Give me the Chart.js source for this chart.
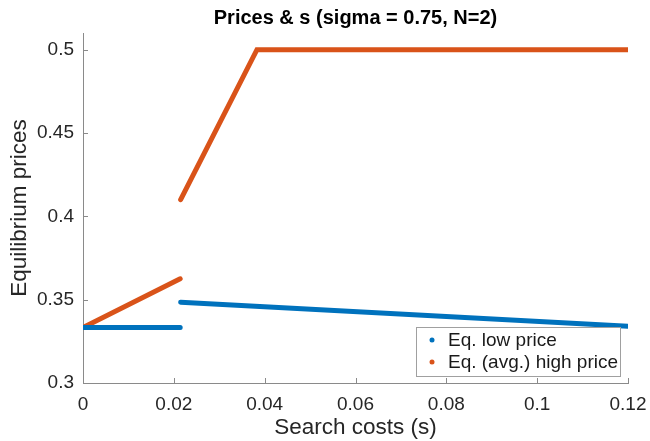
<!DOCTYPE html>
<html>
<head>
<meta charset="utf-8">
<script src="https://cdn.jsdelivr.net/npm/chart.js"></script>
<style>
  html, body { margin: 0; padding: 0; background: #fff; }
  #wrap { width: 650px; height: 441px; }
</style>
</head>
<body>
<div id="wrap"><canvas id="chart" width="650" height="441"></canvas></div>
<script>
// valores (null = salto en la curva)
const searchCostsLow = [0, 0.0214, null, 0.0215, 0.12];
const lowPrice = [0.3333, 0.3333, null, 0.3485, 0.3340];
const searchCostsHigh = [0, 0.0214, null, 0.0215, 0.0383, 0.12];
const highPrice = [0.3333, 0.3625, null, 0.4100, 0.5, 0.5];
const xTicks = [0, 0.02, 0.04, 0.06, 0.08, 0.1, 0.12];
const yTicks = [0.3, 0.35, 0.4, 0.45, 0.5];
const seriesNames = ['Eq. low price', 'Eq. (avg.) high price'];

const FONT = "'Liberation Sans', Arial, Helvetica, sans-serif";
const BLUE = '#0072BD';
const ORANGE = '#D95319';
const AXIS = '#8a8a8a';

function toPoints(xs, ys) {
    return xs.map((x, i) => x === null ? { x: null, y: null } : { x: x, y: ys[i] });
}

// titulo, ticks hacia dentro y leyenda dentro del area
const decorations = {
    id: 'decorations',
    afterDraw(chart) {
        const ctx = chart.ctx;
        const area = chart.chartArea;
        const xs = chart.scales.x;
        const ys = chart.scales.y;
        ctx.save();

        // ticks
        ctx.strokeStyle = AXIS;
        ctx.lineWidth = 1;
        ctx.beginPath();
        xTicks.forEach(v => {
            const px = Math.round(xs.getPixelForValue(v)) + 0.5;
            ctx.moveTo(px, area.bottom);
            ctx.lineTo(px, area.bottom - 5);
        });
        yTicks.forEach(v => {
            const py = Math.round(ys.getPixelForValue(v)) + 0.5;
            ctx.moveTo(area.left, py);
            ctx.lineTo(area.left + 5, py);
        });
        ctx.stroke();

        // titulo
        ctx.fillStyle = '#000';
        ctx.font = 'bold 20px ' + FONT;
        ctx.textAlign = 'center';
        ctx.textBaseline = 'middle';
        ctx.fillText('Prices & s (sigma = 0.75, N=2)', (area.left + area.right) / 2, 18);

        // leyenda
        const box = { x: 416, y: 327, w: 204, h: 49 };
        ctx.fillStyle = '#fff';
        ctx.fillRect(box.x, box.y, box.w, box.h);
        ctx.strokeStyle = '#a0a0a0';
        ctx.strokeRect(box.x + 0.5, box.y + 0.5, box.w, box.h);
        ctx.font = '19px ' + FONT;
        ctx.textAlign = 'left';
        chart.data.datasets.forEach((ds, i) => {
            const cy = box.y + 13 + i * 22;
            ctx.fillStyle = ds.borderColor;
            ctx.beginPath();
            ctx.arc(box.x + 16, cy, 2.5, 0, Math.PI * 2);
            ctx.fill();
            ctx.fillStyle = '#1a1a1a';
            ctx.fillText(ds.label, box.x + 32, cy + 1);
        });
        ctx.restore();
    }
};

new Chart(document.getElementById('chart'), {
    type: 'scatter',
    data: {
        datasets: [{
            label: seriesNames[0],
            data: toPoints(searchCostsLow, lowPrice),
            borderColor: BLUE,
            backgroundColor: BLUE,
            borderWidth: 5,
            borderCapStyle: 'round',
            showLine: true,
            spanGaps: false,
            pointRadius: 0
        }, {
            label: seriesNames[1],
            data: toPoints(searchCostsHigh, highPrice),
            borderColor: ORANGE,
            backgroundColor: ORANGE,
            borderWidth: 5,
            borderCapStyle: 'round',
            showLine: true,
            spanGaps: false,
            pointRadius: 0
        }]
    },
    options: {
        responsive: false,
        animation: false,
        devicePixelRatio: 1,
        layout: { padding: { top: 33, right: 22, left: 0, bottom: 0 } },
        plugins: {
            legend: { display: false },
            title: { display: false },
            tooltip: { enabled: false }
        },
        scales: {
            x: {
                type: 'linear',
                min: 0,
                max: 0.12,
                afterBuildTicks: s => { s.ticks = xTicks.map(v => ({ value: v })); },
                afterFit: s => { s.height = 58; s.paddingLeft = 0; s.paddingRight = 0; },
                grid: { drawOnChartArea: false, drawTicks: false },
                border: { display: true, color: AXIS, width: 1 },
                ticks: {
                    padding: 10,
                    color: '#262626',
                    font: { family: FONT, size: 19 },
                    maxRotation: 0,
                    callback: v => String(v)
                },
                title: {
                    display: true,
                    text: 'Search costs (s)',
                    color: '#262626',
                    font: { family: FONT, size: 22.5 },
                    padding: { top: 0, bottom: 0 }
                }
            },
            y: {
                type: 'linear',
                min: 0.3,
                max: 0.51,
                afterBuildTicks: s => { s.ticks = yTicks.map(v => ({ value: v })); },
                afterFit: s => { s.width = 83; s.paddingTop = 0; s.paddingBottom = 0; },
                grid: { drawOnChartArea: false, drawTicks: false },
                border: { display: true, color: AXIS, width: 1 },
                ticks: {
                    padding: 9,
                    color: '#262626',
                    font: { family: FONT, size: 19 },
                    callback: v => String(v)
                },
                title: {
                    display: true,
                    text: 'Equilibrium prices',
                    color: '#262626',
                    font: { family: FONT, size: 22.5 },
                    padding: { top: 6, bottom: 0 }
                }
            }
        }
    },
    plugins: [decorations]
});
</script>
</body>
</html>
